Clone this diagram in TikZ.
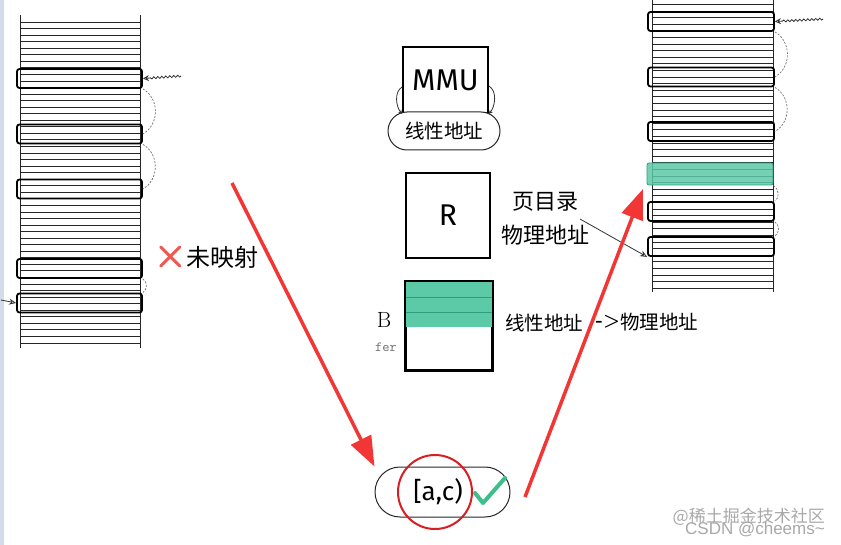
\documentclass[tikz,border=0pt]{standalone}
\usepackage{fontspec}
\usepackage{tikz}
\usetikzlibrary{arrows.meta,calc,decorations.pathmorphing}
\newfontfamily\cjk{Noto Sans CJK SC}
\newfontfamily\manu{Fira Sans}
\newfontfamily\filigrane{Liberation Sans}
\definecolor{vert}{HTML}{5CC9A7}
\definecolor{vertfonce}{HTML}{2E9E7E}
\definecolor{coche}{HTML}{3DBF8C}
\definecolor{rouge}{HTML}{F23535}
\definecolor{rougefonce}{HTML}{D81E22}
\definecolor{croix}{HTML}{EE5A52}
\definecolor{gris}{HTML}{6E6E6E}
\definecolor{lavande}{HTML}{D6DBEC}
\tikzset{
  bloc/.style={draw=black,line width=1.8pt,rounded corners=2.5pt,inner sep=0pt,
               minimum width=125pt,minimum height=19pt},
  cadre/.style={draw=black,line width=1.8pt,inner sep=0pt},
  pilule/.style={draw=black!85,line width=1pt,rounded corners=19pt,inner sep=0pt},
  raie/.style={line width=0.8pt,color=black!85},
  pointille/.style={draw=gris,line width=0.7pt,dash pattern=on 2pt off 1.5pt},
  fleche/.style={-{Stealth[length=7pt,width=6pt,open]},line width=0.8pt,color=black!80},
  grosse/.style={-{Triangle[length=30pt,width=22pt]},line width=3.5pt,color=rouge},
}

\begin{document}
\begin{tikzpicture}[x=1pt,y=-1pt,
  zh/.style={font=\cjk\fontsize{#1}{#1}\selectfont,inner sep=0pt},
  lat/.style={font=\manu\fontsize{#1}{#1}\selectfont,inner sep=0pt}]
  \useasboundingbox (0,0) rectangle (841,545);
  \fill[lavande] (0,0) rectangle (3.5,545);

  % memoire gauche
  \draw[raie] (20,15) -- (20,348) (140,15) -- (140,348);
  \foreach \k in {0,...,49} \draw[raie] (20,{22+6.55*\k}) -- (140,{22+6.55*\k});
  \node[bloc] (l1) at (79.5,78.5) {};
  \node[bloc] (l2) at (79.5,134) {};
  \node[bloc] (l3) at (79.5,189) {};
  \node[bloc] (l4) at (79.5,268.5) {};
  \node[bloc] (l5) at (79.5,303) {};
  \draw[pointille] (l1.south east) to[out=-30,in=30,looseness=1.1] (l2.east);
  \draw[pointille] (l2.south east) to[out=-30,in=30,looseness=1.1] (l3.east);
  \draw[pointille] (l4.south east) to[out=-30,in=30] (l5.north east);
  \coordinate (sqg) at (181,76);
  \draw[fleche,-{Stealth[length=6pt,width=6pt,open]},decorate,
        decoration={snake,amplitude=1pt,segment length=4pt,post length=6pt}] (sqg) -- (l1.east);
  \coordinate (pg) at (1,300);
  \draw[fleche] (pg) -- (l5.west);

  % memoire droite
  \draw[raie] (652,0) -- (652,292) (773,0) -- (773,292);
  \foreach \k in {0,...,43} \draw[raie] (652,{4.5+6.6*\k}) -- (773,{4.5+6.6*\k});
  \node[bloc,minimum width=126pt] (r1) at (711,21.5) {};
  \node[bloc,minimum width=126pt] (r2) at (711,77) {};
  \node[bloc,minimum width=126pt] (r3) at (711,131.5) {};
  \node[draw=vertfonce,fill=vert,fill opacity=0.85,line width=0.8pt,rounded corners=2pt,
        inner sep=0pt,minimum width=126pt,minimum height=22pt] (rv) at (710,174) {};
  \node[bloc,minimum width=126pt] (r5) at (711,211.5) {};
  \node[bloc,minimum width=126pt] (r6) at (711,246.5) {};
  \draw[pointille] (r1.south east) to[out=-30,in=30,looseness=1.1] (r2.east);
  \draw[pointille] (r2.south east) to[out=-30,in=30,looseness=1.1] (r3.east);
  \draw[pointille] (rv.south east) to[out=-30,in=30] (r5.north east);
  \draw[pointille] (r5.south east) to[out=-30,in=30] (r6.north east);
  \coordinate (sqd) at (823,19);
  \draw[fleche,-{Stealth[length=6pt,width=6pt,open]},decorate,
        decoration={snake,amplitude=1pt,segment length=4pt,post length=6pt}] (sqd) -- (r1.east);

  % MMU
  \node[cadre,minimum width=85pt,minimum height=66pt,lat=30] (mmu) at (445.5,80) {MMU};
  \node[pilule,fill=white,minimum width=112pt,minimum height=38pt,zh=19.5] (lin) at (444,131) {线性地址};
  \draw[fleche,-{Stealth[length=4pt,width=4pt]}] ($(mmu.west)+(0,7)$) to[out=210,in=130,looseness=0.9] (mmu.south west);
  \draw[fleche,-{Stealth[length=4pt,width=4pt]}] ($(mmu.east)+(0,6)$) to[out=-30,in=50,looseness=0.9] (mmu.south east);

  % R et buffer
  \node[cadre,minimum width=84pt,minimum height=85pt,lat=30] (reg) at (448,215.5) {R};
  \node[cadre,minimum width=86pt,minimum height=88pt] (buf) at (449,326) {};
  \fill[vert] ($(buf.north west)+(0.9,0.9)$) rectangle ($(buf.north east)+(-0.9,46)$);
  \draw[vertfonce,line width=1pt] ($(buf.north west)+(0.9,16)$) -- ($(buf.north east)+(-0.9,16)$)
                                  ($(buf.north west)+(0.9,31)$) -- ($(buf.north east)+(-0.9,31)$);
  \draw[line width=1.8pt] (buf.north west) rectangle (buf.south east);
  \node[font=\fontsize{22}{22}\selectfont,inner sep=0pt] (bl) at (384,320) {B};
  \node[font=\ttfamily\fontsize{14}{14}\selectfont,text=gris,inner sep=0pt] (fer) at (386,347) {fer};

  % textes
  \node[zh=22] (pd) at (545,202) {页目录};
  \node[zh=22] (pa) at (545,235) {物理地址};
  \node[zh=19.5] (t1) at (544,323) {线性地址};
  \node[font=\bfseries\fontsize{19}{19}\selectfont,inner sep=0pt] (t2) at (608,322) {->};
  \node[zh=19.5] (t3) at (659,322) {物理地址};
  \coordinate (pa0) at (580,219);
  \draw[fleche] (pa0) -- (r6.south west);

  \node[zh=24] (nm) at (222,257) {未映射};
  \draw[croix,line width=3pt,line cap=round] ($(nm.west)+(-25,-10)$) -- ++(19,19)
                                             ($(nm.west)+(-25,9)$) -- ++(19,-19);

  % intervalle
  \node[pilule,minimum width=135pt,minimum height=50pt,rounded corners=25pt] (iv) at (442.5,492) {};
  \node[lat=26] (ac) at (438,492) {[a,c)};
  \draw[rougefonce,line width=2pt] (435,492) circle (37);
  \draw[coche,line width=4pt,line cap=round,line join=round] (475,493) -- (483,503) -- (505,478);

  \coordinate (ra) at (232,183);
  \coordinate (rb) at (525,497);
  \coordinate (rc) at (643,189);
  \draw[grosse] (ra) -- (iv.north west);
  \draw[grosse] (rb) -- (rc);

  \node[zh=17,text=gris!60,anchor=east] (wm1) at (825,517) {@稀土掘金技术社区};
  \node[font=\filigrane\fontsize{17}{17}\selectfont,text=gris!60,anchor=east,inner sep=0pt] (wm2) at (825,530) {CSDN @cheems\textasciitilde};
\end{tikzpicture}
\end{document}
